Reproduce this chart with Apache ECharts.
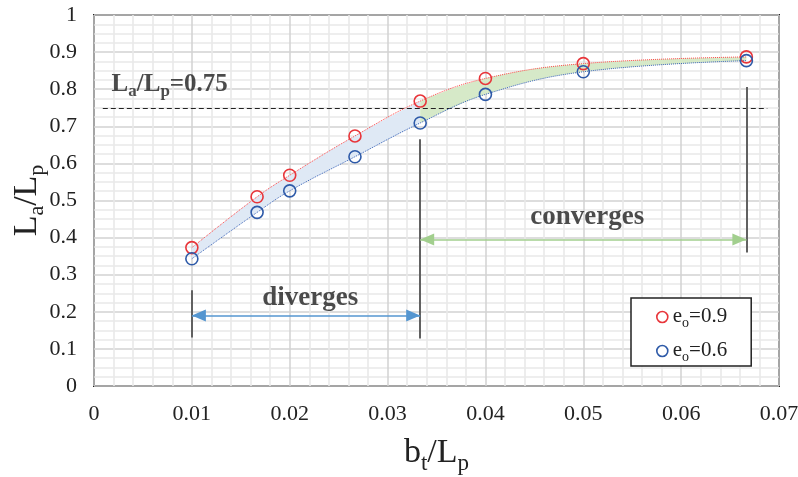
<!DOCTYPE html>
<html>
<head>
<meta charset="utf-8">
<script src="https://cdn.jsdelivr.net/npm/echarts@6/dist/echarts.min.js"></script>
<style>
  html, body { margin: 0; padding: 0; background: #fff; }
  #chart { width: 798px; height: 477px; }
</style>
</head>
<body>
<div id="chart"></div>
<script>
// bt/Lp values shared by both series
const xValues = [0.01, 0.016667, 0.02, 0.026667, 0.033333, 0.04, 0.05, 0.066667];
// La/Lp for eo = 0.9
const ratioE09 = [0.373, 0.510, 0.568, 0.674, 0.768, 0.829, 0.869, 0.887];
// La/Lp for eo = 0.6
const ratioE06 = [0.343, 0.468, 0.526, 0.618, 0.709, 0.786, 0.847, 0.877];
// reference level and the two regions
const thresholdValue = 0.75;
const divergeRange = [0.01, 0.033333];
const convergeRange = [0.033333, 0.066667];

const FONT = 'Liberation Serif';
const RED = '#e8353a';
const BLUE = '#2e5aa8';

const pairs = (xs, ys) => xs.map((x, i) => [x, ys[i]]);

// Filled band between the two curves over index range [i0, i1].
// Rows are [y, x] with encode so that y is the stacked dimension.
function band(i0, i1, color, stackId) {
  const xs = xValues.slice(i0, i1 + 1);
  const lo = ratioE06.slice(i0, i1 + 1);
  const hi = ratioE09.slice(i0, i1 + 1);
  const common = {
    type: 'line', stack: stackId, smooth: 0.4, symbol: 'none', silent: true,
    encode: { x: 1, y: 0 },
    lineStyle: { opacity: 0 }, z: 1
  };
  return [
    Object.assign({}, common, { data: xs.map((x, i) => [lo[i], x]) }),
    Object.assign({}, common, {
      data: xs.map((x, i) => [+(hi[i] - lo[i]).toFixed(4), x]),
      areaStyle: { color: color, opacity: 1 }
    })
  ];
}

const dividerStyle = { color: '#616161', width: 2, type: 'solid' };
const arrowEnd = { symbol: 'triangle', symbolSize: [12, 14], symbolOffset: [0, 7] };

const chart = echarts.init(document.getElementById('chart'), null, { renderer: 'canvas' });

chart.setOption({
  animation: false,
  backgroundColor: '#fff',
  textStyle: { fontFamily: FONT },
  grid: {
    left: 94, right: 19, top: 15, bottom: 91,
    containLabel: false, outerBoundsMode: 'none',
    show: true, borderColor: '#222', borderWidth: 2, backgroundColor: 'transparent'
  },
  xAxis: {
    type: 'value', min: 0, max: 0.07, interval: 0.01,
    axisLine: { show: false }, axisTick: { show: false },
    axisLabel: { fontFamily: FONT, fontSize: 22, color: '#222', margin: 17,
      formatter: v => (v === 0 ? '0' : String(+v.toFixed(2))) },
    splitLine: { lineStyle: { color: '#d2d2d2', width: 1.5 } },
    minorTick: { show: false, splitNumber: 5 },
    minorSplitLine: { show: true, lineStyle: { color: '#e9e9e9', width: 1.6 } },
    name: '{m|b}{s|t}{m|/L}{s|p}',
    nameLocation: 'middle', nameGap: 50,
    nameTextStyle: {
      rich: {
        m: { fontFamily: FONT, fontSize: 34, color: '#222', verticalAlign: 'top', lineHeight: 35 },
        s: { fontFamily: FONT, fontSize: 23, color: '#222', verticalAlign: 'top', lineHeight: 23, padding: [16, 0, 0, 0] }
      }
    }
  },
  yAxis: {
    type: 'value', min: 0, max: 1, interval: 0.1,
    axisLine: { show: false }, axisTick: { show: false },
    axisLabel: { fontFamily: FONT, fontSize: 22, color: '#222', margin: 17,
      formatter: v => (v === 0 ? '0' : String(+v.toFixed(1))) },
    splitLine: { lineStyle: { color: '#d2d2d2', width: 1.5 } },
    minorTick: { show: false, splitNumber: 4 },
    minorSplitLine: { show: true, lineStyle: { color: '#e9e9e9', width: 1.6 } },
    name: '{m|L}{s|a}{m|/L}{s|p}',
    nameLocation: 'middle', nameGap: 49, nameRotate: 90, nameMoveOverlap: false,
    nameTextStyle: {
      rich: {
        m: { fontFamily: FONT, fontSize: 34, color: '#222', verticalAlign: 'top', lineHeight: 35 },
        s: { fontFamily: FONT, fontSize: 22, color: '#222', verticalAlign: 'top', lineHeight: 22, padding: [16, 0, 0, 0] }
      }
    }
  },
  legend: {
    data: [
      { name: 'e09', icon: 'circle', itemStyle: { color: '#fff', borderColor: RED, borderWidth: 1.6 } },
      { name: 'e06', icon: 'circle', itemStyle: { color: '#fff', borderColor: BLUE, borderWidth: 1.6 } }
    ],
    orient: 'vertical', left: 631, top: 298,
    itemWidth: 11, itemHeight: 11, itemGap: 10,
    padding: [8, 24, 2, 25],
    backgroundColor: '#fff', borderColor: '#222', borderWidth: 1.5,
    formatter: n => (n === 'e09' ? '{m|e}{s|o}{m|=0.9}' : '{m|e}{s|o}{m|=0.6}'),
    textStyle: {
      rich: {
        m: { fontFamily: FONT, fontSize: 21, color: '#222', verticalAlign: 'top', lineHeight: 22 },
        s: { fontFamily: FONT, fontSize: 14, color: '#222', verticalAlign: 'top', lineHeight: 14, padding: [10, 0, 0, 0] }
      }
    }
  },
  series: [
    ...band(0, 4, '#dfe9f5', 'b1'),
    ...band(4, 7, '#d6e9c8', 'b2'),
    {
      name: 'e09', type: 'line', smooth: 0.4, z: 5,
      data: pairs(xValues, ratioE09),
      symbol: 'circle', symbolSize: 12,
      lineStyle: { color: '#ff4a4a', width: 1, type: 'dotted' },
      itemStyle: { color: 'rgba(255,255,255,0)', borderColor: RED, borderWidth: 1.6 },
      markLine: {
        silent: true, symbol: 'none', animation: false,
        label: { show: false },
        lineStyle: { color: '#222', width: 1.2, type: [5, 3] },
        data: [[{ coord: [0.0009, thresholdValue] }, { coord: [0.0688, thresholdValue] }]]
      }
    },
    {
      name: 'e06', type: 'line', smooth: 0.4, z: 5,
      data: pairs(xValues, ratioE06),
      symbol: 'circle', symbolSize: 12,
      lineStyle: { color: '#3a64b8', width: 1, type: 'dotted' },
      itemStyle: { color: 'rgba(255,255,255,0)', borderColor: BLUE, borderWidth: 1.6 }
    },
    {
      // notes and region markers
      type: 'scatter', symbolSize: 0, silent: true, z: 6,
      label: { show: true, position: 'inside', color: '#1e1e1e', fontFamily: FONT, fontWeight: 'bold', fontSize: 27 },
      data: [
        { value: [0.0221, 0.236], label: { formatter: 'diverges' } },
        { value: [0.0504, 0.455], label: { formatter: 'converges' } },
        { value: [0.0018, 0.812], label: {
            align: 'left',
            formatter: '{m|L}{s|a}{m|/L}{s|p}{m|=0.75}',
            rich: {
              m: { fontFamily: FONT, fontWeight: 'bold', fontSize: 25, color: '#1e1e1e', verticalAlign: 'top', lineHeight: 26 },
              s: { fontFamily: FONT, fontWeight: 'bold', fontSize: 17, color: '#1e1e1e', verticalAlign: 'top', lineHeight: 17, padding: [11, 0, 0, 0] }
            }
        } }
      ],
      markLine: {
        silent: true, animation: false,
        label: { show: false },
        symbol: 'none',
        lineStyle: dividerStyle,
        data: [
          [{ coord: [divergeRange[0], 0.131] }, { coord: [divergeRange[0], 0.258] }],
          [{ coord: [divergeRange[1], 0.128] }, { coord: [divergeRange[1], 0.665] }],
          [{ coord: [convergeRange[1], 0.36] }, { coord: [convergeRange[1], 0.806] }],
          [
            Object.assign({ coord: [divergeRange[0], 0.19],
              lineStyle: { color: '#5596d0', width: 1.6, type: 'solid' } }, arrowEnd),
            Object.assign({ coord: [divergeRange[1], 0.19] }, arrowEnd)
          ],
          [
            Object.assign({ coord: [convergeRange[0], 0.395],
              lineStyle: { color: '#a2cf8e', width: 1.6, type: 'solid' } }, arrowEnd),
            Object.assign({ coord: [convergeRange[1], 0.395] }, arrowEnd)
          ]
        ]
      }
    }
  ]
});
</script>
</body>
</html>
